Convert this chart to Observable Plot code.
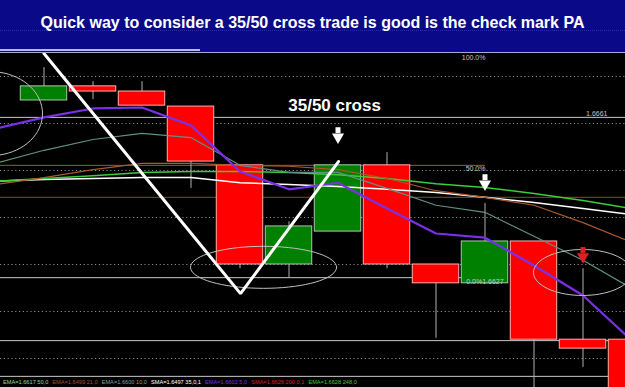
<!DOCTYPE html>
<html>
<head>
<meta charset="utf-8">
<script src="https://cdn.jsdelivr.net/npm/d3@7"></script>
<script src="https://cdn.jsdelivr.net/npm/@observablehq/plot@0.6"></script>
<style>
  html, body { margin:0; padding:0; background:#000; }
  body { width:625px; height:387px; overflow:hidden; position:relative; font-family:"Liberation Sans", Arial, sans-serif; }
  #head { position:relative; height:52px; background:#0a0a88; border-bottom:1px solid #a8a8d0; }
  #head .dots { position:absolute; left:0; right:0; top:30px; border-top:1px dotted #2c2cb0; }
  #head .bar { position:absolute; left:0; width:200px; top:49px; height:2px; background:#b8b8f0; }
  #head .t { position:absolute; left:0; right:0; top:14px; text-align:center; color:#fff; font-weight:bold; font-size:16px; line-height:18px; }
  #chart svg { display:block; }
  #legend { position:absolute; left:0; top:377px; height:10px; white-space:nowrap; font-size:5.65px; line-height:10px; padding-left:3px; }
  #legend span { margin-right:4px; }
</style>
</head>
<body>
<div id="head"><div class="dots"></div><div class="bar"></div><div class="t" id="title"></div></div>
<div id="chart"></div>
<div id="legend"></div>
<script>
// ---------- data ----------
const titleText = "Quick way to consider a 35/50 cross trade is good is the check mark PA";
const candleIdx = [0,1,2,3,4,5,6,7,8,9,10,11,12];
const candleOpen  = [1.66649,1.66679,1.66668,1.66636,1.66511,1.66300,1.66370,1.66511,1.66300,1.66260,1.66349,1.66140,1.66140];
const candleClose = [1.66679,1.66668,1.66638,1.66519,1.66300,1.66381,1.66511,1.66300,1.66260,1.66349,1.66140,1.66121,1.66011];
const candleHigh  = [1.66719,1.66689,1.66689,1.66636,1.66511,1.66391,1.66511,1.66538,1.66300,1.66430,1.66349,1.66291,1.66140];
const candleLow   = [1.66649,1.66651,1.66638,1.66462,1.66291,1.66272,1.66370,1.66291,1.66143,1.66260,1.66032,1.66081,1.66000];

const maIdx   = [-1,0,1,2,3,4,5,6,7,8,9,10,11,12];
const ema5    = [1.66589,1.66613,1.66632,1.66634,1.66596,1.66498,1.66460,1.66474,1.66419,1.66366,1.66357,1.66298,1.66234,1.66138];
const ema10   = [1.66515,1.66543,1.66566,1.66579,1.66570,1.66511,1.66496,1.66496,1.66462,1.66426,1.66411,1.66360,1.66309,1.66249];
const ema21   = [1.66470,1.66485,1.66502,1.66515,1.66515,1.66511,1.66509,1.66502,1.66483,1.66457,1.66443,1.66426,1.66389,1.66347];
const ema248  = [1.66477,1.66483,1.66489,1.66496,1.66498,1.66498,1.66496,1.66491,1.66483,1.66472,1.66464,1.66451,1.66436,1.66419];
const sma35   = [1.66477,1.66481,1.66483,1.66485,1.66485,1.66474,1.66470,1.66466,1.66460,1.66453,1.66443,1.66432,1.66419,1.66406];

const gridLevels = [1.6610,1.6620,1.6630,1.6640,1.6650,1.6660,1.6670];
const fullLevels = [1.66613,1.66138,1.66062];          // solid grey lines
const fibEndIdx = 9.01;
const partLevels = [1.66272];                          // 0.0% line (to fib end)
const brownFull = [1.66443];
const brownPart = [1.66511];

const checkX = [0, 4.01, 6.01];
const checkY = [1.66749, 1.66238, 1.66519];

const arrowX = [6, 9, 11];
const arrowTop = [1.66591, 1.66491, 1.66336];
const arrowTip = [1.66566, 1.66466, 1.66311];
const arrowColor = ["#ffffff", "#ffffff", "#e02020"];

const ellCx = [-1.092, 4.48, 10.99];
const ellCy = [1.66621, 1.66294, 1.66283];
const ellRx = [1.061, 1.49, 1.0];
const ellRy = [0.000894, 0.000447, 0.000489];

const labelText = ["100.0%", "50.0%", "1.6661", "0.0%1.6627"];
const labelX = [9.01, 9.01, 11.5, 9.38];
const labelY = [1.66740, 1.66504, 1.66621, 1.66264];

const crossText = "35/50 cross";
const crossX = 5.93, crossY = 1.66638;

const legendText = ["EMA=1.6617  50,0","EMA=1.6499  21,0","EMA=1.6600  10,0","SMA=1.6497  35,0,1","EMA=1.6602  5,0","SMA=1.6626  200,0,1","EMA=1.6628  248,0"];
const legendColor = ["#8fdc8f","#a0522d","#7f9f9a","#ffffff","#7a2fe8","#d02828","#3cc83c"];

// ---------- build ----------
document.getElementById("title").textContent = titleText;
const lg = document.getElementById("legend");
legendText.forEach((t,k)=>{ const s=document.createElement("span"); s.textContent=t; s.style.color=legendColor[k]; lg.appendChild(s); });

const candles = candleIdx.map((i,k)=>({i, open:candleOpen[k], close:candleClose[k], high:candleHigh[k], low:candleLow[k], up: candleClose[k] > candleOpen[k]}));
const ma = (vals)=> maIdx.map((i,k)=>({i, v:vals[k]}));
const check = checkX.map((x,k)=>({x, y:checkY[k]}));
const arrows = arrowX.map((x,k)=>({x, top:arrowTop[k], tip:arrowTip[k], c:arrowColor[k]}));
const ellipse = (k)=> d3.range(0, 73).map(j=>{ const a = j/72*2*Math.PI; return {x: ellCx[k]+ellRx[k]*Math.cos(a), y: ellCy[k]+ellRy[k]*Math.sin(a)}; });
const labels = labelText.map((t,k)=>({t, x:labelX[k], y:labelY[k]}));

const x0 = -43.5/49, x1 = (625-43.5)/49;
const yTop = 1.6630 + (264-53)/47000, yBot = 1.6630 - (387-264)/47000;

const chart = Plot.plot({
  width: 625, height: 334,
  marginTop: 0, marginBottom: 0, marginLeft: 0, marginRight: 0,
  x: {type: "linear", domain: [x0, x1], axis: null},
  y: {type: "linear", domain: [yBot, yTop], axis: null},
  style: {background: "#000", fontFamily: "Liberation Sans, Arial, sans-serif"},
  marks: [
    Plot.ruleY(gridLevels, {stroke: "#8a8a8a", strokeDasharray: "1.2,2.6", strokeWidth: 1}),
    Plot.ruleY(fullLevels, {stroke: "#c8c8c8", strokeWidth: 1}),
    Plot.ruleY(partLevels, {x1: x0, x2: fibEndIdx, stroke: "#c8c8c8", strokeWidth: 1}),
    Plot.ruleY(brownFull, {stroke: "#8b4a2b", strokeWidth: 1}),
    Plot.ruleY(brownPart, {x1: x0, x2: fibEndIdx, stroke: "#9a5a3a", strokeWidth: 1}),
    Plot.ruleX(candles, {x: "i", y1: "low", y2: "high", stroke: "#b0b0b0", strokeWidth: 1}),
    Plot.rect(candles, {x1: d=>d.i-0.474, x2: d=>d.i+0.474, y1: "open", y2: "close",
      fill: d=>d.up ? "#008000" : "#ff0000", stroke: d=>d.up ? "#a8c8a8" : "#ffb0b0", strokeWidth: 1}),
    Plot.line(ma(sma35), {x: "i", y: "v", stroke: "#ffffff", strokeWidth: 1.5}),
    Plot.line(ma(ema248), {x: "i", y: "v", stroke: "#3ccc3c", strokeWidth: 1.5}),
    Plot.line(ma(ema21), {x: "i", y: "v", stroke: "#a8582d", strokeWidth: 1.2}),
    Plot.line(ma(ema10), {x: "i", y: "v", stroke: "#5f8f88", strokeWidth: 1.2}),
    Plot.line(ma(ema5), {x: "i", y: "v", stroke: "#7a2fe8", strokeWidth: 2.2}),
    ...[0,1,2].map(k=> Plot.line(ellipse(k), {x: "x", y: "y", stroke: "#c0c0c0", strokeWidth: 1})),
    Plot.ruleX(arrows, {x: "x", y1: "top", y2: d=>(d.top+d.tip)/2, stroke: "c", strokeWidth: 5}),
    Plot.dot(arrows, {x: "x", y: d=>(d.top+d.tip)/2 - 0.00007, symbol: "triangle", rotate: 180, r: 4.5, fill: "c", stroke: "none"}),
    Plot.text(labels, {x: "x", y: "y", text: "t", textAnchor: "end", fill: "#c8c8c8", fontSize: 7}),
    Plot.text([crossText], {x: crossX, y: crossY, text: d=>d, fill: "#fff", fontSize: 17, fontWeight: "bold"}),
    Plot.line(check, {x: "x", y: "y", stroke: "#ffffff", strokeWidth: 3, strokeLinejoin: "miter"})
  ]
});
document.getElementById("chart").appendChild(chart);
</script>
</body>
</html>
